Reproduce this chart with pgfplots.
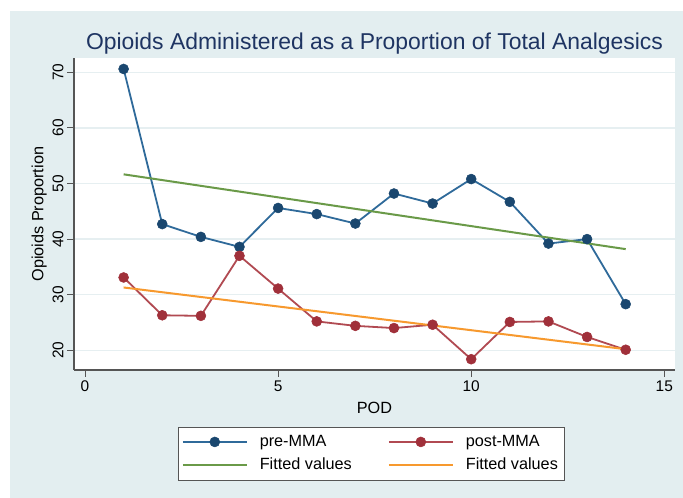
\documentclass[border=0pt]{standalone}
\usepackage{pgfplots}
\pgfplotsset{compat=1.18}
\usepackage{fontspec}
\setmainfont{Liberation Sans}
\definecolor{bgcol}{HTML}{E3EEF0}
\definecolor{gridcol}{HTML}{E6EFF1}
\definecolor{axiscol}{HTML}{555555}
\definecolor{titlecol}{HTML}{1E3462}
\definecolor{blueline}{HTML}{2F6A9A}
\definecolor{bluemark}{HTML}{1A476F}
\definecolor{redline}{HTML}{B14A52}
\definecolor{redmark}{HTML}{A0303A}
\definecolor{greenline}{HTML}{6A9A48}
\definecolor{orangeline}{HTML}{F7992E}
\begin{document}
\begin{tikzpicture}[x=1bp,y=1bp]
\fill[white] (0,0) rectangle (683,498);
\fill[bgcol] (10,0) rectangle (683,487);
\useasboundingbox (0,0) rectangle (683,498);
\begin{axis}[
  at={(74bp,128bp)}, anchor=south west, scale only axis,
  width=601bp, height=311.7bp,
  xmin=-0.285, xmax=15.277, ymin=16.46, ymax=72.52,
  axis x line*=bottom, axis y line*=left,
  axis line style={-, draw=axiscol, line width=1.2bp},
  xtick={0,5,10,15}, ytick={20,30,40,50,60,70},
  tick align=outside, major tick length=7bp,
  tick style={draw=axiscol, line width=1bp},
  ymajorgrids, grid style={draw=gridcol, line width=1.3bp},
  axis background/.style={fill=white},
  ticklabel style={font=\fontsize{15.5}{15.5}\selectfont},
  /pgf/number format/assume math mode=true,
  yticklabel style={rotate=90, anchor=south, xshift=0bp},
  xlabel={POD}, ylabel={Opioids Proportion},
  every axis x label/.style={at={(axis description cs:0.5,-0.122)}, anchor=center, font=\fontsize{16.3}{16.3}\selectfont},
  every axis y label/.style={at={(axis description cs:-0.058,0.5)}, rotate=90, anchor=center, font=\fontsize{16.3}{16.3}\selectfont},
  legend columns=2,
  legend cell align=left,
  legend style={at={(axis description cs:0.1735,-0.1819)}, anchor=north west,
    draw=axiscol, line width=1bp, fill=white,
    font=\fontsize{16.3}{16.3}\selectfont,
    inner xsep=3bp, inner ysep=3bp,
    nodes={inner sep=4bp, text height=12bp, text depth=3.5bp},
    /tikz/every odd column/.append style={column sep=8bp},
    /tikz/every even column/.append style={column sep=32bp}},
]
\addplot[draw=blueline, line width=1.8bp, mark=*, mark size=5bp, mark options={fill=bluemark, draw=bluemark, line width=0.5bp},
  legend image code/.code={\draw[draw=blueline, line width=1.8bp] (0bp,0bp) -- (64bp,0bp); \filldraw[fill=bluemark, draw=bluemark, line width=0.5bp] (32bp,0bp) circle[radius=5bp];}] coordinates {
(1,70.6) (2,42.7) (3,40.4) (4,38.6) (5,45.6) (6,44.5) (7,42.8) (8,48.2) (9,46.4) (10,50.8) (11,46.7) (12,39.2) (13,40.0) (14,28.3)};
\addlegendentry{pre-MMA}
\addplot[draw=redline, line width=1.8bp, mark=*, mark size=5bp, mark options={fill=redmark, draw=redmark, line width=0.5bp},
  legend image code/.code={\draw[draw=redline, line width=1.8bp] (0bp,0bp) -- (64bp,0bp); \filldraw[fill=redmark, draw=redmark, line width=0.5bp] (32bp,0bp) circle[radius=5bp];}] coordinates {
(1,33.1) (2,26.3) (3,26.2) (4,37.0) (5,31.1) (6,25.2) (7,24.4) (8,24.0) (9,24.6) (10,18.4) (11,25.1) (12,25.2) (13,22.4) (14,20.1)};
\addlegendentry{post-MMA}
\addplot[draw=greenline, line width=2bp,
  legend image code/.code={\draw[draw=greenline, line width=2bp] (0bp,0bp) -- (64bp,0bp);}] coordinates {(1,51.65) (14,38.2)};
\addlegendentry{Fitted values}
\addplot[draw=orangeline, line width=2bp,
  legend image code/.code={\draw[draw=orangeline, line width=2bp] (0bp,0bp) -- (64bp,0bp);}] coordinates {(1,31.3) (14,20.2)};
\addlegendentry{Fitted values}
\end{axis}
\node[font=\fontsize{23}{23}\selectfont, text=titlecol, anchor=base] at (374.5,448) {Opioids Administered as a Proportion of Total Analgesics};
\end{tikzpicture}
\end{document}
